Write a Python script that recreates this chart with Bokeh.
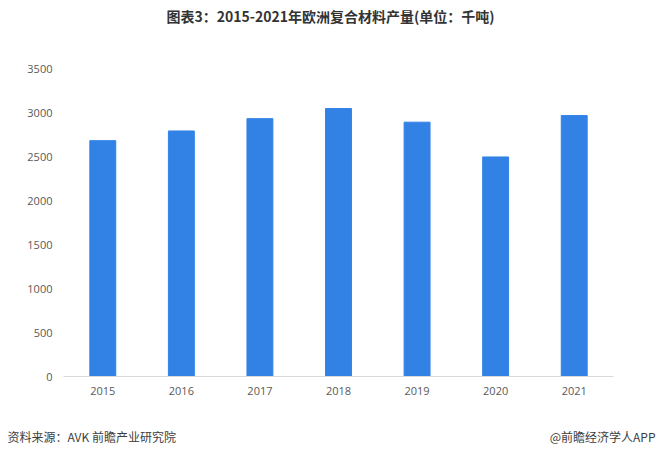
from bokeh.plotting import figure
from bokeh.models import ColumnDataSource, Label, Range1d, FixedTicker
from bokeh.embed import file_html
from bokeh.resources import INLINE

years = ["2015", "2016", "2017", "2018", "2019", "2020", "2021"]
output = [2680, 2790, 2930, 3045, 2890, 2495, 2965]
y_ticks = [0, 500, 1000, 1500, 2000, 2500, 3000, 3500]

title_text = "图表3：2015-2021年欧洲复合材料产量(单位：千吨)"
source_text = "资料来源：AVK 前瞻产业研究院"
credit_text = "@前瞻经济学人APP"

W = 660


def text_strip(height):
    f = figure(width=W, height=height, output_backend="svg", toolbar_location=None,
               x_axis_location=None, y_axis_location=None,
               x_range=Range1d(0, 1), y_range=Range1d(0, 1),
               min_border=0, min_border_left=0, min_border_right=0,
               min_border_top=0, min_border_bottom=0)
    f.outline_line_color = None
    f.grid.visible = False
    f.background_fill_color = "white"
    f.border_fill_color = "white"
    return f


# header with title
head = text_strip(40)
head.add_layout(Label(x=330, y=25, x_units="screen", y_units="screen", text=title_text,
                      text_font="Noto Sans CJK SC", text_font_size="14px", text_font_style="bold",
                      text_color="#333333", text_align="center", text_baseline="middle"))

# main chart
src = ColumnDataSource(dict(year=years, value=output))
p = figure(x_range=years, y_range=Range1d(0, 3500), width=W, height=380,
           output_backend="svg", toolbar_location=None,
           min_border_left=63, min_border_right=47, min_border_top=28, min_border_bottom=44)
p.outline_line_color = None
p.background_fill_color = "white"
p.border_fill_color = "white"

p.vbar(x="year", top="value", width=0.33, source=src, color="#3282E6")

p.xgrid.grid_line_color = None
p.ygrid.grid_line_color = None

p.yaxis.ticker = FixedTicker(ticks=y_ticks)
p.yaxis.axis_line_color = None
p.yaxis.major_tick_line_color = None
p.yaxis.major_tick_out = 0
p.yaxis.minor_tick_line_color = None
p.yaxis.minor_tick_out = 0
p.yaxis.major_label_text_font = "Open Sans"
p.yaxis.major_label_text_font_size = "11px"
p.yaxis.major_label_text_color = "#595959"
p.yaxis.major_label_standoff = 11

p.xaxis.axis_line_color = "#D9D9D9"
p.xaxis.axis_line_width = 1
p.xaxis.major_tick_line_color = None
p.xaxis.major_tick_out = 0
p.xaxis.minor_tick_line_color = None
p.xaxis.major_label_text_font = "Open Sans"
p.xaxis.major_label_text_font_size = "11px"
p.xaxis.major_label_text_color = "#595959"
p.xaxis.major_label_standoff = 10

# footer
foot = text_strip(32)
foot.add_layout(Label(x=7, y=16, x_units="screen", y_units="screen", text=source_text,
                      text_font="Noto Sans CJK SC", text_font_size="12px",
                      text_color="#404040", text_align="left", text_baseline="middle"))
foot.add_layout(Label(x=655, y=16, x_units="screen", y_units="screen", text=credit_text,
                      text_font="Noto Sans CJK SC", text_font_size="12px",
                      text_color="#404040", text_align="right", text_baseline="middle"))

open("out.html", "w").write(file_html([head, p, foot], INLINE))
